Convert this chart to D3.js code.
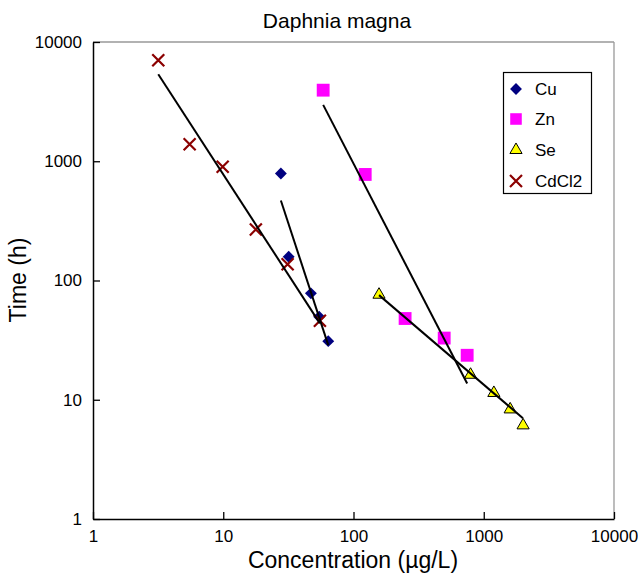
<!DOCTYPE html>
<html>
<head>
<meta charset="utf-8">
<script src="https://cdn.jsdelivr.net/npm/d3@7"></script>
<style>
  html, body { margin: 0; padding: 0; background: #fff; }
  svg { display: block; font-family: "Liberation Sans", Arial, sans-serif; }
</style>
</head>
<body>
<svg id="chart" width="638" height="576"></svg>
<script>
// ---- data ----
const xTicks = [1, 10, 100, 1000, 10000];
const yTicks = [1, 10, 100, 1000, 10000];

const cuX = [27.7, 31.8, 47.1, 54.5, 64];
const cuY = [790, 158, 78, 49.6, 31];

const znX = [58.5, 123, 249, 497, 746];
const znY = [3945, 775, 48, 32.9, 23.6];

const seX = [157, 792, 1196, 1595, 2005];
const seY = [76, 16.2, 11.4, 8.3, 6.1];

const cdX = [3.17, 5.52, 9.9, 17.8, 31.2, 55.2];
const cdY = [7030, 1390, 898, 268, 137, 45.9];

// trend lines (endpoints)
const cuTrendX = [27.7, 64];
const cuTrendY = [469, 28.7];
const znTrendX = [58.5, 746];
const znTrendY = [2970, 13.7];
const seTrendX = [157, 2000];
const seTrendY = [75.4, 7.0];
const cdTrendX = [3.17, 55.2];
const cdTrendY = [5370, 43.7];

const seriesNames = ["Cu", "Zn", "Se", "CdCl2"];

// ---- layout ----
const svg = d3.select("#chart");
const L = 93, R = 614, T = 42, B = 519;

const x = d3.scaleLog().domain([1, 10000]).range([L, R]);
const y = d3.scaleLog().domain([1, 10000]).range([B, T]);

// plot frame (gray top/right)
svg.append("line").attr("x1", L).attr("x2", R).attr("y1", T).attr("y2", T)
  .attr("stroke", "#999").attr("stroke-width", 1.3);
svg.append("line").attr("x1", R).attr("x2", R).attr("y1", T).attr("y2", B)
  .attr("stroke", "#999").attr("stroke-width", 1.3);

// axes
const xAxis = d3.axisBottom(x).tickValues(xTicks).tickFormat(d3.format("d"))
  .tickSizeInner(-7).tickSizeOuter(0).tickPadding(11);
const gx = svg.append("g").attr("transform", `translate(0,${B})`).call(xAxis);
gx.select(".domain").attr("stroke", "#000").attr("stroke-width", 1.5);
gx.selectAll(".tick line").attr("stroke", "#000").attr("stroke-width", 1.3);
gx.selectAll(".tick text").attr("font-size", 17).attr("fill", "#000")
  .attr("font-family", "Liberation Sans, Arial, sans-serif");

const yAxis = d3.axisLeft(y).tickValues(yTicks).tickFormat(d3.format("d"))
  .tickSizeInner(-7).tickSizeOuter(0).tickPadding(11);
const gy = svg.append("g").attr("transform", `translate(${L},0)`).call(yAxis);
gy.select(".domain").attr("stroke", "#000").attr("stroke-width", 1.5);
gy.selectAll(".tick line").attr("stroke", "#000").attr("stroke-width", 1.3);
gy.selectAll(".tick text").attr("font-size", 17).attr("fill", "#000")
  .attr("font-family", "Liberation Sans, Arial, sans-serif");

// titles
svg.append("text").attr("x", 337).attr("y", 28).attr("text-anchor", "middle")
  .attr("font-size", 21).attr("fill", "#000").text("Daphnia magna");
svg.append("text").attr("x", 353).attr("y", 568).attr("text-anchor", "middle")
  .attr("font-size", 23).attr("fill", "#000").text("Concentration (µg/L)");
svg.append("text").attr("transform", "translate(26,280) rotate(-90)")
  .attr("text-anchor", "middle").attr("font-size", 23).attr("fill", "#000").text("Time (h)");

// markers
const sym = {
  Cu: { path: d3.symbol().type(d3.symbolDiamond2).size(90)(), fill: "#000080", stroke: "none" },
  Zn: { path: d3.symbol().type(d3.symbolSquare).size(165)(), fill: "#ff00ff", stroke: "none" },
  Se: { path: d3.symbol().type(d3.symbolTriangle).size(64)(), fill: "#ffff00", stroke: "#000" },
};

function drawMarks(name, xs, ys) {
  const g = svg.append("g");
  const data = xs.map((v, i) => [v, ys[i]]);
  if (name === "CdCl2") {
    data.forEach(d => drawCross(g, x(d[0]), y(d[1])));
  } else {
    const s = sym[name];
    g.selectAll("path").data(data).join("path")
      .attr("d", s.path)
      .attr("transform", d => `translate(${x(d[0])},${y(d[1])})`)
      .attr("fill", s.fill).attr("stroke", s.stroke).attr("stroke-width", 1);
  }
}
function drawCross(g, cx, cy) {
  const r = 6;
  g.append("path").attr("d", `M${cx - r},${cy - r}L${cx + r},${cy + r}M${cx - r},${cy + r}L${cx + r},${cy - r}`)
    .attr("stroke", "#8b0000").attr("stroke-width", 2.2).attr("fill", "none");
}
function drawTrend(xs, ys) {
  const line = d3.line().x(d => x(d[0])).y(d => y(d[1]));
  svg.append("path").attr("d", line(xs.map((v, i) => [v, ys[i]])))
    .attr("stroke", "#000").attr("stroke-width", 2).attr("fill", "none");
}

drawMarks("Cu", cuX, cuY);
drawMarks("Zn", znX, znY);
drawMarks("Se", seX, seY);
drawMarks("CdCl2", cdX, cdY);

drawTrend(cuTrendX, cuTrendY);
drawTrend(znTrendX, znTrendY);
drawTrend(seTrendX, seTrendY);
drawTrend(cdTrendX, cdTrendY);

// legend
const lg = svg.append("g");
lg.append("rect").attr("x", 503.5).attr("y", 72.5).attr("width", 88).attr("height", 121)
  .attr("fill", "#fff").attr("stroke", "#000").attr("stroke-width", 1.2);
const legY = [89, 119, 150, 181];
seriesNames.forEach((n, i) => {
  const cx = 516, cy = legY[i];
  if (n === "CdCl2") drawCross(lg, cx, cy);
  else {
    const s = sym[n];
    let sc = n === "Zn" ? 0.9 : 1;
    lg.append("path").attr("d", s.path)
      .attr("transform", `translate(${cx},${cy}) scale(${sc})`)
      .attr("fill", s.fill).attr("stroke", s.stroke).attr("stroke-width", 1);
  }
  lg.append("text").attr("x", 535).attr("y", cy + 6).attr("font-size", 17)
    .attr("fill", "#000").text(n);
});
</script>
</body>
</html>
